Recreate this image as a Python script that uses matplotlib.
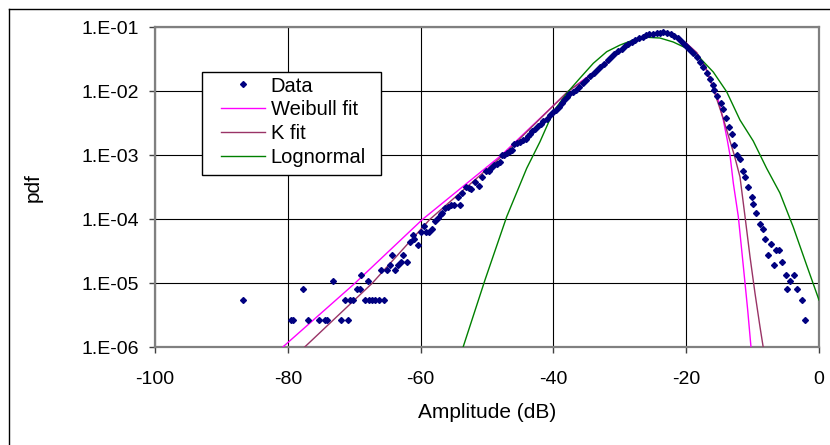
import matplotlib
matplotlib.use('Agg')
import matplotlib.pyplot as plt
from matplotlib.lines import Line2D
from matplotlib.patches import Rectangle
from matplotlib.ticker import NullLocator

plt.rcParams['font.family'] = ['Liberation Sans', 'DejaVu Sans']

# ---------------- data ----------------
data_db = [-86.75, -79.52, -79.22, -77.71, -77.0, -75.3, -74.35, -74.1, -73.15, -71.94,
           -71.39, -70.93, -70.63, -70.14, -69.64, -69.13, -69.03, -68.43, -67.97, -67.73,
           -67.27, -66.82, -66.31, -66.01, -65.47, -65.06, -64.61, -64.36, -63.81, -63.33,
           -62.88, -62.61, -62.09, -61.6, -61.1, -60.95, -60.44, -59.94, -59.44, -59.23,
           -58.73, -58.21, -57.76, -57.45, -57.0, -56.73, -56.28, -55.83, -55.42, -54.97,
           -54.41, -54.07, -53.69, -53.12, -52.67, -52.37, -51.81, -51.17, -50.72, -50.17,
           -49.67, -49.37, -48.96, -48.52, -48.11, -47.76, -47.39, -46.93, -46.54, -46.2,
           -45.87, -45.48, -45.03, -44.58, -44.2, -43.9, -43.52, -43.15, -42.77, -42.32,
           -41.91, -41.52, -41.01, -40.51, -40.11, -39.61, -39.16, -38.75, -38.36, -38.0,
           -37.61, -37.1, -36.6, -36.1, -35.6, -35.09, -34.49, -33.96, -33.43, -32.91,
           -32.38, -31.85, -31.33, -30.8, -30.27, -29.74, -29.22, -28.69, -28.16, -27.64,
           -27.11, -26.58, -26.05, -25.53, -25.0, -24.47, -23.95, -23.42, -22.89, -22.36,
           -21.84, -21.31, -20.78, -20.33, -19.88, -19.43, -18.93, -18.33, -17.92, -17.42,
           -16.91, -16.42, -16.0, -15.79, -15.33, -14.79, -14.53, -14.03, -13.62, -13.06,
           -12.8, -12.32, -11.85, -11.39, -11.1, -10.65, -10.14, -9.9, -9.44, -8.93,
           -8.43, -8.19, -7.73, -7.23, -6.73, -6.52, -5.98, -5.53, -5.02, -4.79,
           -4.32, -3.81, -3.31, -2.56, -2.11]
data_pdf = [5.4e-6, 2.7e-6, 2.7e-6, 8.2e-6, 2.7e-6, 2.7e-6, 2.7e-6, 2.7e-6, 1.09e-5, 2.7e-6,
            5.4e-6, 2.7e-6, 5.4e-6, 5.4e-6, 8.2e-6, 8.2e-6, 1.36e-5, 5.4e-6, 1.09e-5, 5.4e-6,
            5.4e-6, 5.4e-6, 5.4e-6, 1.63e-5, 5.4e-6, 1.63e-5, 1.9e-5, 2.72e-5, 1.63e-5, 1.9e-5,
            2.18e-5, 2.72e-5, 2.18e-5, 4.4e-5, 5.6e-5, 5.0e-5, 4.0e-5, 6.3e-5, 7.9e-5, 6.3e-5,
            6.3e-5, 7.0e-5, 9.5e-5, 1.04e-4, 1.2e-4, 1.27e-4, 1.5e-4, 1.58e-4, 1.65e-4, 1.7e-4,
            2.23e-4, 1.7e-4, 2.58e-4, 3.2e-4, 3.03e-4, 2.97e-4, 3.87e-4, 3.37e-4, 4.63e-4, 5.69e-4,
            5.69e-4, 6.22e-4, 6.93e-4, 7.31e-4, 7.77e-4, 9.93e-4, 1.02e-3, 1.07e-3, 1.15e-3, 1.21e-3,
            1.48e-3, 1.53e-3, 1.64e-3, 1.73e-3, 1.77e-3, 1.97e-3, 2.15e-3, 2.37e-3, 2.62e-3, 2.87e-3,
            3.08e-3, 3.44e-3, 3.69e-3, 4.27e-3, 4.7e-3, 5.1e-3, 5.74e-3, 6.5e-3, 7.31e-3, 8.24e-3,
            9.08e-3, 9.75e-3, 1.05e-2, 1.18e-2, 1.33e-2, 1.5e-2, 1.75e-2, 1.95e-2, 2.18e-2, 2.42e-2,
            2.7e-2, 3.06e-2, 3.41e-2, 3.8e-2, 4.24e-2, 4.63e-2, 5.07e-2, 5.55e-2, 5.96e-2, 6.4e-2,
            6.76e-2, 7.13e-2, 7.53e-2, 7.8e-2, 7.94e-2, 8.09e-2, 8.24e-2, 8.3e-2, 8.09e-2, 7.8e-2,
            7.26e-2, 6.76e-2, 6.1e-2, 5.48e-2, 4.98e-2, 4.42e-2, 3.92e-2, 3.4e-2, 2.9e-2, 2.42e-2,
            1.95e-2, 1.55e-2, 1.25e-2, 1.05e-2, 8.45e-3, 6.64e-3, 5.23e-3, 3.87e-3, 2.8e-3, 2.13e-3,
            1.45e-3, 1.02e-3, 8.66e-4, 5.74e-4, 4.53e-4, 3.23e-4, 2.25e-4, 1.72e-4, 1.27e-4, 8.45e-5,
            7.05e-5, 4.98e-5, 2.72e-5, 4.08e-5, 1.9e-5, 3.26e-5, 3.26e-5, 2.18e-5, 1.36e-5, 8.2e-6,
            1.09e-5, 1.36e-5, 8.2e-6, 5.4e-6, 2.7e-6]

weib_db = [-80.8, -69.9, -59.7, -47.85, -37.75, -35.0, -32.0, -29.0, -26.5, -24.5, -23.4,
           -22.0, -19.95, -18.44, -17.2, -16.16, -15.17, -14.41, -13.81, -13.4, -12.9,
           -12.15, -11.39, -10.74, -10.24]
weib_pdf = [1.0e-6, 1.0e-5, 1.0e-4, 1.0e-3, 1.0e-2, 1.65e-2, 2.8e-2, 5.0e-2, 7.1e-2, 8.1e-2, 8.3e-2,
            7.7e-2, 5.6e-2, 4.0e-2, 2.42e-2, 1.33e-2, 7.3e-3, 3.56e-3, 1.73e-3, 1.0e-3, 3.65e-4,
            1.1e-4, 1.82e-5, 3.83e-6, 1.0e-6]

k_db = [-77.5, -67.3, -58.6, -47.6, -37.8, -35.0, -32.0, -29.0, -26.5, -24.5, -23.4,
        -22.0, -19.95, -18.4, -17.1, -15.8, -14.5, -13.5, -12.75, -11.9, -11.14,
        -10.39, -9.64, -8.89, -8.4]
k_pdf = [1.0e-6, 1.0e-5, 1.0e-4, 1.0e-3, 1.0e-2, 1.6e-2, 2.75e-2, 5.0e-2, 7.1e-2, 8.1e-2, 8.25e-2,
         7.7e-2, 5.6e-2, 4.0e-2, 2.45e-2, 1.0e-2, 4.0e-3, 1.8e-3, 1.0e-3, 4.6e-4, 1.1e-4,
         2.6e-5, 7.0e-6, 2.1e-6, 1.0e-6]

logn_db = [-53.61, -50.3, -47.03, -44.02, -42.02, -40.02, -38.0, -35.99, -33.99, -31.97,
           -29.97, -27.97, -25.95, -23.95, -21.95, -19.94, -17.93, -15.92, -13.91, -11.9,
           -9.9, -7.89, -5.89, -3.88, -1.87, 0.0]
logn_pdf = [1.0e-6, 1.13e-5, 1.1e-4, 6.27e-4, 1.63e-3, 4.8e-3, 9.3e-3, 1.61e-2, 2.74e-2, 4.16e-2,
            5.28e-2, 6.34e-2, 6.98e-2, 6.8e-2, 5.89e-2, 4.7e-2, 3.31e-2, 2.0e-2, 9.86e-3, 3.56e-3,
            1.67e-3, 6.27e-4, 2.58e-4, 7.58e-5, 1.93e-5, 5.48e-6]

x_ticks = [-100, -80, -60, -40, -20, 0]
x_labels = ['-100', '-80', '-60', '-40', '-20', '0']
y_ticks = [1e-6, 1e-5, 1e-4, 1e-3, 1e-2, 1e-1]
y_labels = ['1.E-06', '1.E-05', '1.E-04', '1.E-03', '1.E-02', '1.E-01']
series_labels = ['Data', 'Weibull fit', 'K fit', 'Lognormal']

# ---------------- figure ----------------
W, H = 830, 445
fig = plt.figure(figsize=(W / 100, H / 100), dpi=100)
ax = fig.add_axes([155 / W, 1 - 347.3 / H, 664 / W, 320 / H])

l_w, = ax.plot(weib_db, weib_pdf, color='#FF00FF', lw=1.0, zorder=3)
l_k, = ax.plot(k_db, k_pdf, color='#993366', lw=1.0, zorder=3)
l_l, = ax.plot(logn_db, logn_pdf, color='#008000', lw=1.0, zorder=3)
l_d, = ax.plot(data_db, data_pdf, ls='none', marker='D', ms=3.0, mec='#000080',
               mfc='#000080', zorder=4)

ax.set_yscale('log')
ax.set_xlim(-100, 0)
ax.set_ylim(1e-6, 1e-1)
ax.set_xticks(x_ticks)
ax.set_xticklabels(x_labels)
ax.set_yticks(y_ticks)
ax.set_yticklabels(y_labels)
ax.yaxis.set_minor_locator(NullLocator())
ax.grid(True, color='black', lw=0.8, zorder=1)
ax.set_axisbelow(True)
for s in ax.spines.values():
    s.set_color('#808080')
    s.set_linewidth(1.6)
ax.tick_params(axis='both', direction='out', length=4, width=1, color='#404040',
               labelsize=14, labelcolor='black')
ax.tick_params(axis='y', pad=7.5)
ax.tick_params(axis='x', pad=13)

ax.set_xlabel('Amplitude (dB)', fontsize=15)
ax.xaxis.label.set_va('center')
ax.xaxis.set_label_coords(0.5, -(412 - 347.3) / 320)
ax.set_ylabel('pdf', fontsize=15)
ax.yaxis.label.set_va('center')
ax.yaxis.set_label_coords((33 - 155) / 664, 0.5)

# legend box
rect = Rectangle((202.3 / W, 1 - 174.7 / H), (380.7 - 202.3) / W, (174.7 - 72.3) / H,
                 transform=fig.transFigure, facecolor='white', edgecolor='black', lw=1.0,
                 zorder=5)
fig.add_artist(rect)
leg = fig.legend([l_d, l_w, l_k, l_l], series_labels, loc='upper left',
                 bbox_to_anchor=(221.0 / W, 1 - 76.5 / H), bbox_transform=fig.transFigure,
                 frameon=False, borderpad=0, borderaxespad=0, fontsize=14.5,
                 handlelength=2.2, handletextpad=0.27, labelspacing=0.24, numpoints=1)
leg.set_zorder(6)

# outer chart frame
fig.add_artist(Line2D([9 / W, 9 / W], [0, 1 - 9 / H], transform=fig.transFigure,
                      color='black', lw=1.0))
fig.add_artist(Line2D([9 / W, 1], [1 - 9 / H, 1 - 9 / H], transform=fig.transFigure,
                      color='black', lw=1.0))

fig.savefig('out.png', dpi=100)
